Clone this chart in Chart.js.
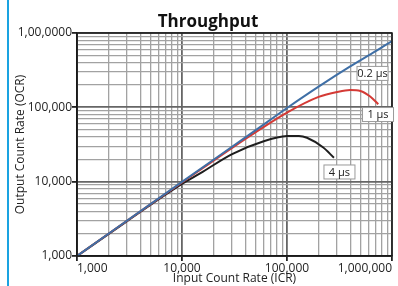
<!DOCTYPE html>
<html>
<head>
<meta charset="utf-8">
<script src="https://cdn.jsdelivr.net/npm/chart.js@4/dist/chart.umd.min.js"></script>
<style>
  html, body { margin: 0; padding: 0; background: #fff; }
  #wrap { position: relative; width: 398px; height: 286px; overflow: hidden; }
  #bar { position: absolute; left: 7px; top: 0; width: 2px; height: 286px; background: #1aa3e1; }
  #chart { position: absolute; left: 0; top: 0; }
</style>
</head>
<body>
<div id="wrap">
  <div id="bar"></div>
  <canvas id="chart" width="398" height="286"></canvas>
</div>
<script>
// Throughput curves (counts per second)
const icr02 = [1000, 10000, 50000, 100000, 200000, 400000, 700000, 1000000]
const ocr02 = [1000, 9950, 49000, 98000, 190000, 355000, 570000, 780000]

const icr1 = [1000, 5000, 15000, 30000, 50000, 100000, 200000, 300000, 400000, 500000, 620000, 740000]
const ocr1 = [1000, 4950, 14500, 28500, 46000, 85000, 138000, 161000, 171000, 166000, 140000, 110000]

const icr4 = [1000, 3000, 10000, 15000, 30000, 60000, 100000, 130000, 155000, 220000, 280000]
const ocr4 = [1000, 2950, 9300, 13000, 23500, 35000, 41000, 41200, 39000, 29000, 21000]

const decades = [1000, 10000, 100000, 1000000]
const xTickLabels = ["1,000", "10,000", "100,000", "1,000,000"]
const yTickLabels = ["1,000", "10,000", "100,000", "1,00,0000"]

// curve tags, anchored in data coordinates
const curveLabels = ["0.2 µs", "1 µs", "4 µs"]
const labelIcr = [652000, 736000, 316000]
const labelOcr = [286000, 80000, 13500]

const FONT = '"Open Sans", "DejaVu Sans", sans-serif'

function toPoints(xs, ys) {
  return xs.map((v, i) => ({ x: v, y: ys[i] }))
}

// 1..9 x 10^n ticks so every log grid line gets drawn
function logTicks() {
  const t = []
  for (let e = 3; e < 6; e++) {
    for (let m = 1; m < 10; m++) t.push({ value: m * Math.pow(10, e) })
  }
  t.push({ value: 1000000 })
  return t
}

const isDecade = (v) => decades.includes(v)

function gridOpts() {
  return {
    color: (c) => (c.tick && isDecade(c.tick.value) ? "#666" : "#a2a2a2"),
    lineWidth: (c) => (c.tick && isDecade(c.tick.value) ? 1.8 : 1.3),
    tickColor: (c) => (c.tick && isDecade(c.tick.value) ? "#222" : "rgba(0,0,0,0)"),
    tickLength: 5,
    drawTicks: true,
  }
}

const overlay = {
  id: "overlay",
  afterDatasetsDraw(chart) {
    const { ctx, chartArea: a, scales } = chart
    const x = scales.x
    const y = scales.y
    ctx.save()
    ctx.strokeStyle = "#1a1a1a"
    ctx.lineWidth = 1.5
    ctx.strokeRect(a.left, a.top, a.right - a.left, a.bottom - a.top)

    ctx.font = "11px " + FONT
    ctx.textAlign = "center"
    ctx.textBaseline = "middle"
    curveLabels.forEach((t, i) => {
      const cx = x.getPixelForValue(labelIcr[i])
      const cy = y.getPixelForValue(labelOcr[i])
      ctx.fillStyle = "#fff"
      ctx.fillRect(cx - 15.5, cy - 7, 31, 14)
      ctx.strokeStyle = "#9a9a9a"
      ctx.lineWidth = 1
      ctx.strokeRect(cx - 15.5, cy - 7, 31, 14)
      ctx.fillStyle = "#222"
      ctx.fillText(t, cx, cy + 0.5)
    })

    // title sits a bit left of the plot centre in the original
    ctx.font = "bold 17px " + FONT
    ctx.fillStyle = "#111"
    ctx.fillText("Throughput", a.left + (a.right - a.left) * 0.416, a.top - 11)
    ctx.restore()
  },
}

new Chart(document.getElementById("chart"), {
  type: "line",
  data: {
    datasets: [
      {
        label: "0.2 µs",
        data: toPoints(icr02, ocr02),
        borderColor: "#3f6fa6",
        borderWidth: 2,
        pointRadius: 0,
        cubicInterpolationMode: "monotone",
      },
      {
        label: "1 µs",
        data: toPoints(icr1, ocr1),
        borderColor: "#d43a35",
        borderWidth: 2,
        pointRadius: 0,
        cubicInterpolationMode: "monotone",
      },
      {
        label: "4 µs",
        data: toPoints(icr4, ocr4),
        borderColor: "#1e1e1e",
        borderWidth: 2,
        pointRadius: 0,
        cubicInterpolationMode: "monotone",
      },
    ],
  },
  options: {
    responsive: false,
    animation: false,
    layout: { padding: { left: 0, right: 6, top: 33, bottom: 0 } },
    plugins: {
      legend: { display: false },
      title: { display: false },
      tooltip: { enabled: false },
    },
    scales: {
      x: {
        type: "logarithmic",
        min: 1000,
        max: 1000000,
        afterBuildTicks: (scale) => { scale.ticks = logTicks() },
        afterFit: (scale) => { scale.height = 30 },
        grid: gridOpts(),
        border: { display: true, color: "#1a1a1a", width: 1.5 },
        ticks: {
          autoSkip: false,
          maxRotation: 0,
          align: "inner",
          padding: 0,
          color: "#222",
          font: { family: FONT, size: 12 },
          callback: (v) => {
            const i = decades.indexOf(v)
            return i >= 0 ? xTickLabels[i] : ""
          },
        },
        title: {
          display: true,
          text: "Input Count Rate (ICR)",
          color: "#222",
          font: { family: FONT, size: 12 },
          padding: { top: 0, bottom: 0 },
        },
      },
      y: {
        type: "logarithmic",
        min: 1000,
        max: 1000000,
        afterBuildTicks: (scale) => { scale.ticks = logTicks() },
        afterFit: (scale) => { scale.width = 77 },
        grid: gridOpts(),
        border: { display: true, color: "#1a1a1a", width: 1.5 },
        ticks: {
          autoSkip: false,
          padding: 0,
          color: "#222",
          font: { family: FONT, size: 12 },
          callback: (v) => {
            const i = decades.indexOf(v)
            return i >= 0 ? yTickLabels[i] : ""
          },
        },
        title: {
          display: true,
          text: "Output Count Rate (OCR)",
          color: "#222",
          font: { family: FONT, size: 12 },
          padding: { top: 13, bottom: 0 },
        },
      },
    },
  },
  plugins: [overlay],
})
</script>
</body>
</html>
